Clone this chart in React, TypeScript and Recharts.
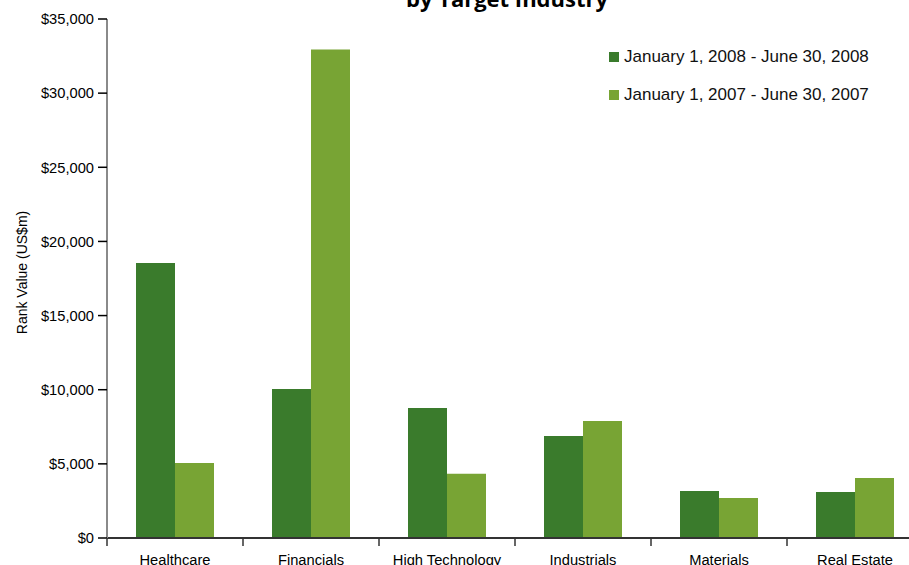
import { Bar, BarChart, Legend, XAxis, YAxis } from "recharts";

const industries = ["Healthcare", "Financials", "High Technology", "Industrials", "Materials", "Real Estate"];
const h1_2008 = [18550, 10050, 8770, 6880, 3170, 3100];
const h1_2007 = [5050, 32950, 4330, 7890, 2700, 4050];
const yTicks = [0, 5000, 10000, 15000, 20000, 25000, 30000, 35000];

const seriesNames = ["January 1, 2008 - June 30, 2008", "January 1, 2007 - June 30, 2007"];
const DARK = "#3A7B2C";
const LIGHT = "#78A434";
const FONT = '"Liberation Sans", Arial, sans-serif';
const TICK_SIZE = 6;
const TICK_MARGIN = 11;

const data = industries.map((name, i) => ({
  name,
  h2008: h1_2008[i],
  h2007: h1_2007[i],
}));

function money(v: number) {
  return "$" + v.toLocaleString("en-US");
}

function LegendBox() {
  const colors = [DARK, LIGHT];
  return (
    <div style={{ fontFamily: FONT, fontSize: 17, color: "#111" }}>
      {seriesNames.map((s, i) => (
        <div key={s} style={{ height: 38, lineHeight: "20px", whiteSpace: "nowrap" }}>
          <span
            style={{
              display: "inline-block",
              width: 10,
              height: 10,
              marginRight: 5,
              background: colors[i],
              verticalAlign: "baseline",
            }}
          />
          {s}
        </div>
      ))}
    </div>
  );
}

// category label plus Excel-style tick marks between categories
function CategoryTick(props: any) {
  const { x, y, payload, index, visibleTicksCount } = props;
  const half = payload && payload.offset ? payload.offset : 68;
  const axisY = y - TICK_SIZE - TICK_MARGIN;
  const isLast = index === visibleTicksCount - 1;
  return (
    <g>
      <line x1={x - half} x2={x - half} y1={axisY} y2={axisY + 8} stroke="#333" strokeWidth={1.5} />
      {isLast && <line x1={x + half} x2={x + half} y1={axisY} y2={axisY + 8} stroke="#333" strokeWidth={1.5} />}
      <text x={x} y={y} dy="0.71em" textAnchor="middle" fontFamily={FONT} fontSize={14.7} fill="#000">
        {payload.value}
      </text>
    </g>
  );
}

function YLabel({ viewBox }: any) {
  const cy = viewBox ? viewBox.y + viewBox.height / 2 : 280;
  return (
    <text
      x={27}
      y={cy - 6}
      transform={`rotate(-90, 27, ${cy - 6})`}
      textAnchor="middle"
      fontFamily={FONT}
      fontSize={14}
      fill="#000"
    >
      Rank Value (US$m)
    </text>
  );
}

export default function App() {
  return (
    <div
      style={{
        position: "absolute",
        left: 0,
        top: 0,
        width: 909,
        height: 565,
        overflow: "hidden",
        background: "#fff",
      }}
    >
      <svg width={909} height={30} style={{ position: "absolute", left: 0, top: 0 }}>
        <text
          x={507}
          y={7}
          textAnchor="middle"
          fontFamily='"Open Sans", sans-serif'
          fontWeight={700}
          fontSize={22}
          fill="#000"
        >
          by Target Industry
        </text>
      </svg>
      <div style={{ position: "absolute", left: 0, top: 0 }}>
        <BarChart
          width={940}
          height={600}
          data={data}
          margin={{ top: 19, right: 17, left: 0, bottom: 22 }}
          barGap={0}
          barSize={39}
        >
          <XAxis
            dataKey="name"
            height={40}
            axisLine={{ stroke: "#333", strokeWidth: 2 }}
            tickLine={false}
            tickSize={TICK_SIZE}
            tickMargin={TICK_MARGIN}
            tick={<CategoryTick />}
            interval={0}
          />
          <YAxis
            width={107}
            domain={[0, 35000]}
            ticks={yTicks}
            tickFormatter={money}
            axisLine={{ stroke: "#8A8A8A", strokeWidth: 2 }}
            tickLine={{ stroke: "#000", strokeWidth: 1.5 }}
            tickSize={9}
            tickMargin={4}
            tick={{ fontFamily: FONT, fontSize: 14.7, fill: "#000" }}
            label={<YLabel />}
          />
          <Legend
            layout="horizontal"
            verticalAlign="middle"
            align="center"
            wrapperStyle={{ left: 609, top: 47, width: 300, height: 80 }}
            content={() => <LegendBox />}
          />
          <Bar dataKey="h2008" name={seriesNames[0]} fill={DARK} isAnimationActive={false} />
          <Bar dataKey="h2007" name={seriesNames[1]} fill={LIGHT} isAnimationActive={false} />
        </BarChart>
      </div>
    </div>
  );
}
